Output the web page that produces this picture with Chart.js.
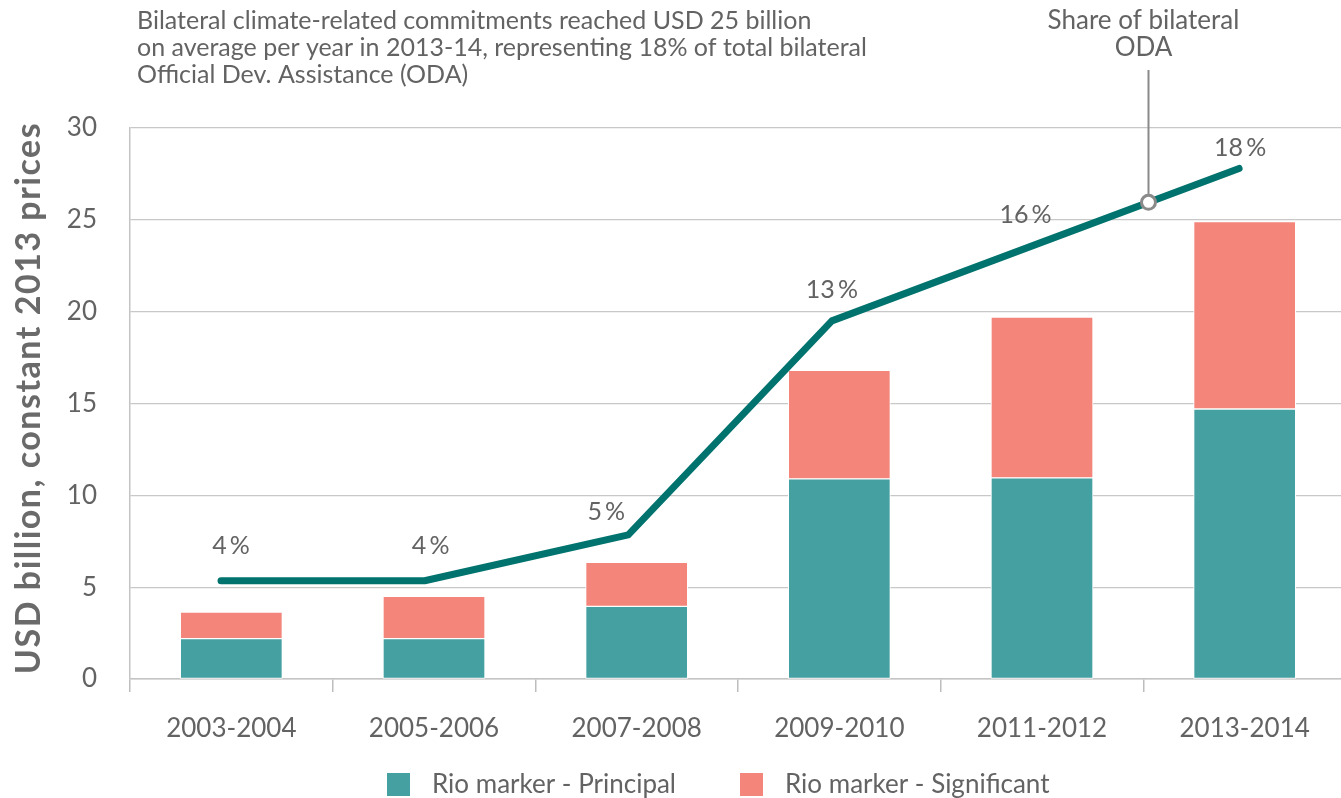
<!DOCTYPE html>
<html><head><meta charset="utf-8">
<script src="https://cdn.jsdelivr.net/npm/chart.js@4/dist/chart.umd.min.js"></script>
<style>html,body{margin:0;padding:0;overflow:hidden;background:#fff}canvas{display:block}</style>
</head><body>
<canvas id="c" width="1350" height="798"></canvas>
<script>
const categories = ['2003-2004','2005-2006','2007-2008','2009-2010','2011-2012','2013-2014'];
const principal = [2.2, 2.2, 3.95, 10.9, 10.95, 14.7];
const significant = [1.45, 2.3, 2.4, 5.9, 8.75, 10.2];
const shareLine = [5.35, 5.35, 7.85, 19.5, 23.65, 27.8];
const shareLabels = ['4\u2009%','4\u2009%','5\u2009%','13\u2009%','16\u2009%','18\u2009%'];
const yTicks = [0,5,10,15,20,25,30];
const titleLines = ['Bilateral climate-related commitments reached USD 25 billion','on average per year in 2013-14, representing 18% of total bilateral','Official Dev. Assistance (ODA)'];
const annotationLines = ['Share of bilateral','ODA'];
const labelOffsets = [[10,-35],[6,-35],[-22,-23],[0,-31],[-10,-30],[1,-20]];

const FONT = 'Lato, "Open Sans", sans-serif';
const TXT = '#636363';

const overlay = {
  id: 'overlay',
  afterDraw(chart) {
    const ctx = chart.ctx;
    ctx.save();
    // title
    ctx.fillStyle = TXT; ctx.font = '25px ' + FONT; ctx.textBaseline = 'middle'; ctx.textAlign = 'left';
    titleLines.forEach((t,i) => ctx.fillText(t, 137, 21 + i*27));
    // y title
    ctx.save(); ctx.translate(29, 398); ctx.rotate(-Math.PI/2);
    ctx.font = 'bold 34px ' + FONT; ctx.textAlign = 'center'; ctx.fillStyle = '#6a6a6a';
    try { ctx.letterSpacing = '1.5px'; } catch(e) {}
    ctx.fillText('USD billion, constant 2013 prices', 0, 0);
    try { ctx.letterSpacing = '0px'; } catch(e) {}
    ctx.restore();
    // percent labels
    const meta = chart.getDatasetMeta(2);
    ctx.font = '25px ' + FONT; ctx.textAlign = 'center'; ctx.fillStyle = TXT;
    meta.data.forEach((p,i) => ctx.fillText(shareLabels[i], p.x + labelOffsets[i][0], p.y + labelOffsets[i][1]));
    // annotation marker on the line between 2011-2012 and 2013-2014
    const p4 = meta.data[4], p5 = meta.data[5];
    const t = 0.555;
    const mx = p4.x + (p5.x - p4.x)*t, my = p4.y + (p5.y - p4.y)*t;
    ctx.strokeStyle = '#8a8a8a'; ctx.lineWidth = 2;
    ctx.beginPath(); ctx.moveTo(mx, 70); ctx.lineTo(mx, my - 7); ctx.stroke();
    ctx.beginPath(); ctx.arc(mx, my, 7, 0, Math.PI*2); ctx.fillStyle = '#fff'; ctx.fill();
    ctx.lineWidth = 3; ctx.stroke();
    ctx.fillStyle = TXT; ctx.font = '26px ' + FONT; ctx.textAlign = 'center';
    annotationLines.forEach((s,i) => ctx.fillText(s, mx - 5, 21 + i*27));
    // legend
    const ds = chart.data.datasets;
    const items = [[ds[0].backgroundColor, ds[0].label, 387], [ds[1].backgroundColor, ds[1].label, 740]];
    ctx.textAlign = 'left'; ctx.font = '26px ' + FONT;
    items.forEach(([c,l,lx]) => {
      ctx.fillStyle = c; ctx.fillRect(lx, 773, 23, 23);
      ctx.fillStyle = TXT; ctx.fillText(l, lx + 45, 785);
    });
    ctx.restore();
  }
};

new Chart(document.getElementById('c'), {
  data: {
    labels: categories,
    datasets: [
      { type:'bar', label:'Rio marker - Principal', data: principal, backgroundColor:'#45a0a2', borderColor:'#fff', borderWidth:1, borderSkipped:false, barThickness:102, grouped:false, stack:'s', order:2 },
      { type:'bar', label:'Rio marker - Significant', data: significant, backgroundColor:'#f3857a', borderColor:'#fff', borderWidth:1, borderSkipped:false, barThickness:102, grouped:false, stack:'s', order:2 },
      { type:'line', label:'Share of bilateral ODA', data: shareLine.map((v,i) => ({x:i, y:v})), xAxisID:'xl', stack:'line',
        borderColor:'#00736e', borderWidth:7, borderCapStyle:'round', borderJoinStyle:'round', pointRadius:0, tension:0, order:1 }
    ]
  },
  options: {
    responsive:false, animation:false,
    layout:{ padding:{ left:0, top:128, right:4, bottom:0 } },
    plugins:{ legend:{display:false}, tooltip:{enabled:false}, title:{display:false} },
    scales:{
      x:{ stacked:true, offset:true,
          grid:{ offset:true, drawOnChartArea:false, drawTicks:true, tickLength:13, color:'#bdbdbd', lineWidth:1.5 },
          border:{ display:true, color:'#c4c4c4', width:1.5 },
          ticks:{ color:TXT, font:{ family:FONT, size:26 }, padding:21 },
          afterFit(s){ s.height = 119; } },
      xl:{ type:'linear', display:false, min:-0.447, max:5.525 },
      y:{ stacked:true, min:0, max:30,
          afterBuildTicks(s){ s.ticks = yTicks.map(v => ({value:v})); },
          grid:{ drawTicks:false, color:'#c8c8c8', lineWidth:1.2 },
          border:{ display:true, color:'#c4c4c4', width:1.5 },
          ticks:{ color:TXT, font:{ family:FONT, size:26 }, padding:33 },
          afterFit(s){ s.width = 130; } }
    }
  },
  plugins:[overlay]
});
</script>
</body></html>
